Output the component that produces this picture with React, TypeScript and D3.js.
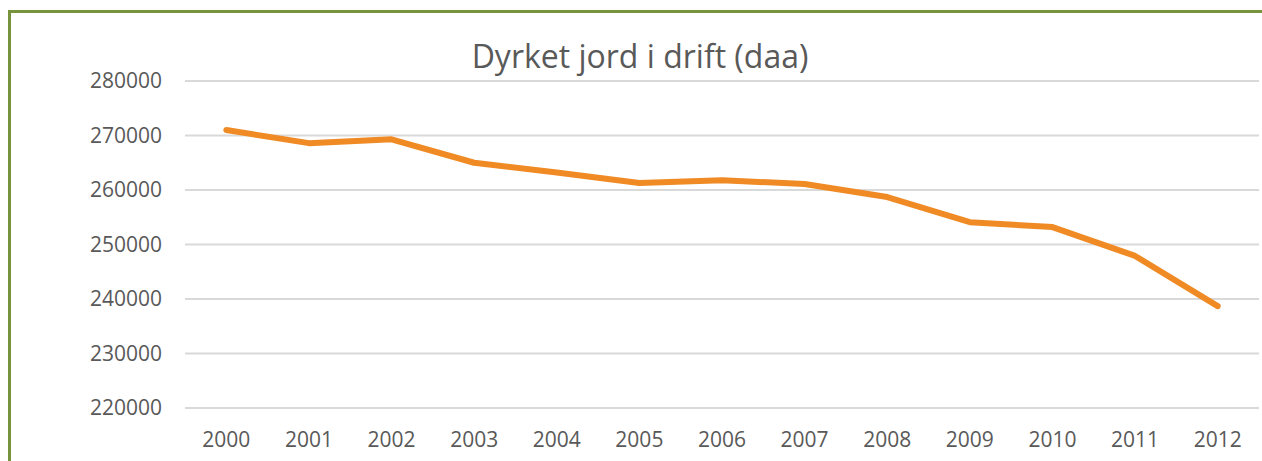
import React, { useEffect, useRef } from 'react';
import * as d3 from 'd3';

const years = ['2000', '2001', '2002', '2003', '2004', '2005', '2006', '2007', '2008', '2009', '2010', '2011', '2012'];
const area = [271000, 268600, 269300, 265000, 263200, 261300, 261800, 261100, 258700, 254100, 253200, 247900, 238700];
const yTicks = [220000, 230000, 240000, 250000, 260000, 270000, 280000];

const W = 1262;
const H = 461;

export default function App() {
  const svgRef = useRef<SVGSVGElement>(null);

  useEffect(() => {
    if (!svgRef.current) return;
    const svg = d3.select(svgRef.current);
    svg.selectAll('*').remove();

    const margin = { top: 81, right: 3, bottom: 53, left: 185 };
    const x = d3.scaleBand<string>().domain(years).range([margin.left, W - margin.right]);
    const y = d3.scaleLinear().domain([220000, 280000]).range([H - margin.bottom, margin.top]);

    // frame (only left, top visible)
    svg.append('rect')
      .attr('x', 9.5)
      .attr('y', 11.5)
      .attr('width', 1262)
      .attr('height', 500)
      .attr('fill', 'none')
      .attr('stroke', '#77933C')
      .attr('stroke-width', 3);

    // gridlines
    svg.append('g')
      .selectAll('line')
      .data(yTicks)
      .join('line')
      .attr('x1', margin.left)
      .attr('x2', W - margin.right)
      .attr('y1', d => y(d))
      .attr('y2', d => y(d))
      .attr('stroke', '#d9d9d9')
      .attr('stroke-width', 2);

    // y labels
    svg.append('g')
      .selectAll('text')
      .data(yTicks)
      .join('text')
      .attr('x', 162)
      .attr('y', d => y(d))
      .attr('dy', '0.35em')
      .attr('text-anchor', 'end')
      .attr('fill', '#595959')
      .style('font-family', '"Open Sans", sans-serif')
      .style('font-size', '21px')
      .text(d => String(d));

    // x labels
    svg.append('g')
      .selectAll('text')
      .data(years)
      .join('text')
      .attr('x', d => (x(d) as number) + x.bandwidth() / 2)
      .attr('y', 447)
      .attr('text-anchor', 'middle')
      .attr('fill', '#595959')
      .style('font-family', '"Open Sans", sans-serif')
      .style('font-size', '21px')
      .text(d => d);

    // line
    const line = d3.line<number>()
      .x((_, i) => (x(years[i]) as number) + x.bandwidth() / 2)
      .y(d => y(d));

    svg.append('path')
      .datum(area)
      .attr('d', line)
      .attr('fill', 'none')
      .attr('stroke', '#F08A24')
      .attr('stroke-width', 6)
      .attr('stroke-linecap', 'round')
      .attr('stroke-linejoin', 'round');

    // title
    svg.append('text')
      .attr('x', 640)
      .attr('y', 68)
      .attr('text-anchor', 'middle')
      .attr('fill', '#595959')
      .style('font-family', '"Open Sans", sans-serif')
      .style('font-size', '32px')
      .text('Dyrket jord i drift (daa)');
  }, []);

  return (
    <div style={{ position: 'absolute', left: 0, top: 0 }}>
      <svg ref={svgRef} width={W} height={H} style={{ display: 'block', background: '#fff' }} />
    </div>
  );
}
